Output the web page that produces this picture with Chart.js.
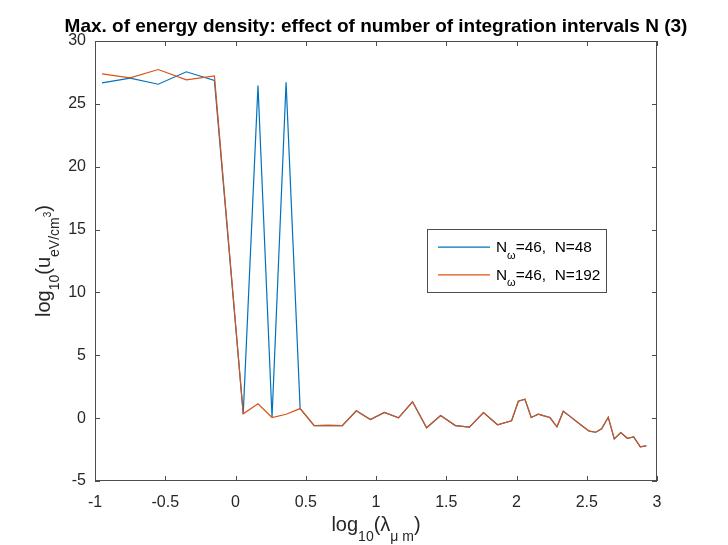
<!DOCTYPE html>
<html>
<head>
<meta charset="utf-8">
<title>Max. of energy density</title>
<script src="https://cdn.jsdelivr.net/npm/chart.js@4.4.1/dist/chart.umd.min.js"></script>
<style>
  html, body { margin: 0; padding: 0; background: #fff; }
  canvas { display: block; }
</style>
</head>
<body>
<canvas id="energyChart" width="728" height="545"></canvas>
<script>
// log10 of wavelength (micrometres), 46 frequencies
const logLambda = [
  -0.95, -0.75, -0.55, -0.35, -0.15,
  0.055, 0.16, 0.26, 0.36, 0.46, 0.56, 0.66, 0.76, 0.86, 0.96,
  1.06, 1.16, 1.26, 1.36, 1.46, 1.565, 1.665, 1.765, 1.865, 1.965,
  2.013, 2.06, 2.105, 2.155, 2.196, 2.238, 2.288, 2.333, 2.381, 2.427,
  2.473, 2.518, 2.564, 2.606, 2.653, 2.696, 2.742, 2.789, 2.834, 2.881, 2.924
];

// log10 of max energy density, N = 48 integration intervals
const logU_N48 = [
  26.67, 27.04, 26.56, 27.55, 26.86,
  0.34, 26.46, 0.05, 26.72, 0.76, -0.59, -0.57, -0.59, 0.58, -0.11,
  0.45, 0.02, 1.30, -0.77, 0.21, -0.59, -0.72, 0.45, -0.53, -0.21,
  1.34, 1.50, 0.05, 0.31, 0.18, 0.05, -0.69, 0.55, 0.14, -0.26,
  -0.66, -1.04, -1.12, -0.85, 0.07, -1.65, -1.15, -1.60, -1.49, -2.28, -2.20
];

// log10 of max energy density, N = 192 integration intervals
const logU_N192 = [
  27.39, 27.07, 27.73, 26.91, 27.23,
  0.34, 1.14, 0.05, 0.31, 0.76, -0.59, -0.57, -0.59, 0.58, -0.11,
  0.45, 0.02, 1.30, -0.77, 0.21, -0.59, -0.72, 0.45, -0.53, -0.21,
  1.34, 1.50, 0.05, 0.31, 0.18, 0.05, -0.69, 0.55, 0.14, -0.26,
  -0.66, -1.04, -1.12, -0.85, 0.07, -1.65, -1.15, -1.60, -1.49, -2.28, -2.20
];

const xRange = [-1, 3];
const xStep = 0.5;
const yRange = [-5, 30];
const yStep = 5;

const titleText = 'Max. of energy density: effect of number of integration intervals N (3)';
const legendRows = [
  { color: '#0072BD', rest: '=46,  N=48' },
  { color: '#D95319', rest: '=46,  N=192' }
];

const AXIS = '#262626';
const FONT = '"Liberation Sans", Arial, Helvetica, sans-serif';

const toPoints = ys => ys.map((y, i) => ({ x: logLambda[i], y: y }));

// draw a run of text pieces: [text, size, dy, bold]
function drawRich(ctx, parts, x, y, align) {
  let total = 0;
  parts.forEach(p => {
    ctx.font = (p[3] ? 'bold ' : '') + p[1] + 'px ' + FONT;
    total += ctx.measureText(p[0]).width;
  });
  let cx = align === 'center' ? x - total / 2 : x;
  parts.forEach(p => {
    ctx.font = (p[3] ? 'bold ' : '') + p[1] + 'px ' + FONT;
    ctx.fillText(p[0], cx, y + (p[2] || 0));
    cx += ctx.measureText(p[0]).width;
  });
}

// MATLAB-like box, inward ticks, title, labels and legend
const matlabAxes = {
  id: 'matlabAxes',
  afterDraw(chart) {
    const { ctx, chartArea: a, scales: { x, y } } = chart;
    ctx.save();
    ctx.strokeStyle = '#4d4d4d';
    ctx.lineWidth = 1;
    ctx.strokeRect(a.left + 0.5, a.top + 0.5, a.width - 1, a.height - 1);

    ctx.beginPath();
    x.ticks.forEach(t => {
      const px = Math.round(x.getPixelForValue(t.value)) + 0.5;
      ctx.moveTo(px, a.bottom); ctx.lineTo(px, a.bottom - 5);
      ctx.moveTo(px, a.top); ctx.lineTo(px, a.top + 5);
    });
    y.ticks.forEach(t => {
      const py = Math.round(y.getPixelForValue(t.value)) + 0.5;
      ctx.moveTo(a.left, py); ctx.lineTo(a.left + 5, py);
      ctx.moveTo(a.right, py); ctx.lineTo(a.right - 5, py);
    });
    ctx.stroke();

    ctx.fillStyle = '#000';
    ctx.textAlign = 'left';
    ctx.textBaseline = 'alphabetic';
    const midX = (a.left + a.right) / 2;

    // title
    drawRich(ctx, [[titleText, 19, 0, true]], midX, 32, 'center');

    // x label
    ctx.fillStyle = AXIS;
    drawRich(ctx, [
      ['log', 20, 0], ['10', 14, 10], ['(\u03bb', 20, 0], ['\u03bc m', 14, 10], [')', 20, 0]
    ], midX, 531, 'center');

    // y label
    ctx.save();
    ctx.translate(50, (a.top + a.bottom) / 2);
    ctx.rotate(-Math.PI / 2);
    drawRich(ctx, [
      ['log', 20, 0], ['10', 14, 8.5], ['(u', 20, 0], ['eV/cm', 14, 8.5], ['3', 10, 1], [')', 20, 0]
    ], 0, 0, 'center');
    ctx.restore();

    // legend
    const lx = 427, ly = 229, lw = 179, lh = 63;
    ctx.fillStyle = '#fff';
    ctx.fillRect(lx, ly, lw, lh);
    ctx.strokeStyle = '#4d4d4d';
    ctx.lineWidth = 1;
    ctx.strokeRect(lx + 0.5, ly + 0.5, lw, lh);
    legendRows.forEach((row, i) => {
      const rowY = 247.2 + i * 27.7;
      ctx.strokeStyle = row.color;
      ctx.lineWidth = 1.2;
      ctx.beginPath();
      ctx.moveTo(438, rowY); ctx.lineTo(490, rowY);
      ctx.stroke();
      ctx.fillStyle = '#000';
      drawRich(ctx, [['N', 15.4, 0], ['\u03c9', 11, 6.5], [row.rest, 15.4, 0]], 496, rowY + 5, 'left');
    });
    ctx.restore();
  }
};

const ctx = document.getElementById('energyChart').getContext('2d');
const energyChart = new Chart(ctx, {
  type: 'line',
  data: {
    datasets: [{
      label: 'N_omega=46, N=48',
      data: toPoints(logU_N48),
      borderColor: legendRows[0].color,
      borderWidth: 1.2,
      pointRadius: 0,
      tension: 0,
      fill: false,
      order: 1
    }, {
      label: 'N_omega=46, N=192',
      data: toPoints(logU_N192),
      borderColor: legendRows[1].color,
      borderWidth: 1.2,
      pointRadius: 0,
      tension: 0,
      fill: false,
      order: 0
    }]
  },
  options: {
    responsive: false,
    animation: false,
    layout: { padding: { top: 41, right: 71, left: 0, bottom: 0 } },
    plugins: {
      legend: { display: false },
      title: { display: false },
      tooltip: { enabled: false }
    },
    scales: {
      x: {
        type: 'linear',
        min: xRange[0],
        max: xRange[1],
        grid: { display: false, drawTicks: false },
        border: { display: false },
        ticks: {
          stepSize: xStep,
          autoSkip: false,
          maxRotation: 0,
          padding: 12,
          color: AXIS,
          font: { family: FONT, size: 16 },
          callback: v => String(Math.round(v * 10) / 10)
        },
        afterFit: s => { s.height = 64; }
      },
      y: {
        type: 'linear',
        min: yRange[0],
        max: yRange[1],
        grid: { display: false, drawTicks: false },
        border: { display: false },
        ticks: {
          stepSize: yStep,
          padding: 9,
          color: AXIS,
          font: { family: FONT, size: 16 },
          callback: v => String(v)
        },
        afterFit: s => { s.width = 95; }
      }
    }
  },
  plugins: [matlabAxes]
});
</script>
</body>
</html>
